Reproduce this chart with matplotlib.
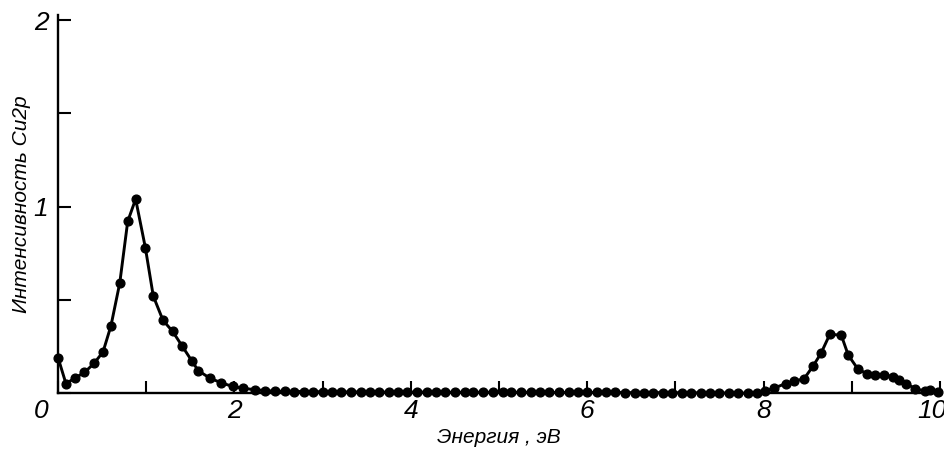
import matplotlib
matplotlib.use("Agg")
import matplotlib.pyplot as plt
from matplotlib.transforms import ScaledTranslation

# энергия (эВ) и интенсивность Cu2p
energy = [0.00, 0.09, 0.19, 0.30, 0.41, 0.51, 0.60, 0.70, 0.79, 0.88,
          0.99, 1.08, 1.19, 1.30, 1.41, 1.52, 1.59, 1.72, 1.85, 1.98,
          2.10, 2.23, 2.35, 2.46, 2.57, 2.68, 2.79, 2.89, 3.00, 3.11,
          3.21, 3.32, 3.43, 3.54, 3.64, 3.75, 3.86, 3.96, 4.07, 4.18,
          4.29, 4.39, 4.50, 4.61, 4.71, 4.82, 4.93, 5.04, 5.14, 5.25,
          5.36, 5.46, 5.57, 5.68, 5.79, 5.89, 6.00, 6.11, 6.21, 6.32,
          6.43, 6.54, 6.64, 6.75, 6.86, 6.96, 7.07, 7.18, 7.29, 7.39,
          7.50, 7.61, 7.71, 7.82, 7.92, 8.02, 8.12, 8.25, 8.35, 8.46,
          8.56, 8.65, 8.75, 8.88, 8.96, 9.07, 9.17, 9.26, 9.36, 9.47,
          9.53, 9.62, 9.72, 9.83, 9.89, 9.98]
intensity = [0.19, 0.05, 0.08, 0.11, 0.16, 0.22, 0.36, 0.59, 0.92, 1.04,
             0.78, 0.52, 0.39, 0.33, 0.25, 0.17, 0.12, 0.08, 0.055, 0.035,
             0.025, 0.018, 0.013, 0.010, 0.009, 0.008, 0.008, 0.007, 0.007, 0.007,
             0.006, 0.006, 0.006, 0.006, 0.005, 0.005, 0.005, 0.005, 0.005, 0.005,
             0.005, 0.004, 0.004, 0.004, 0.004, 0.004, 0.004, 0.004, 0.004, 0.004,
             0.004, 0.003, 0.003, 0.003, 0.003, 0.003, 0.003, 0.003, 0.003, 0.003,
             0.002, 0.002, 0.002, 0.002, 0.002, 0.002, 0.001, 0.001, 0.001, 0.000,
             0.000, 0.000, -0.001, -0.001, 0.000, 0.010, 0.027, 0.050, 0.063, 0.077,
             0.144, 0.212, 0.314, 0.311, 0.203, 0.128, 0.104, 0.099, 0.099, 0.086,
             0.068, 0.050, 0.023, 0.010, 0.015, 0.005]

x_ticks = [0, 1, 2, 3, 4, 5, 6, 7, 8, 9, 10]
x_labels = ["0", "", "2", "", "4", "", "6", "", "8", "", "10"]
y_ticks = [0, 0.5, 1, 1.5, 2]
y_labels = ["", "", "1", "", "2"]

fnt = ["Liberation Sans", "DejaVu Sans"]

fig = plt.figure(figsize=(9.45, 4.51), dpi=100)
ax = fig.add_axes([0.0614, 0.1286, 0.9333, 0.838])

ax.plot(energy, intensity, color="black", lw=2.1, marker="o", ms=6.3,
        clip_on=False, zorder=3)

ax.set_xlim(0, 10)
ax.set_ylim(0, 2.027)
ax.spines["top"].set_visible(False)
ax.spines["right"].set_visible(False)
ax.spines["left"].set_linewidth(1.7)
ax.spines["bottom"].set_linewidth(1.7)

ax.set_xticks(x_ticks)
ax.set_xticklabels(x_labels, family=fnt, style="italic", fontsize=19)
ax.set_yticks(y_ticks)
ax.set_yticklabels(y_labels, family=fnt, style="italic", fontsize=19)
ax.tick_params(axis="both", direction="in", length=9, width=1.5)
ax.tick_params(axis="x", pad=4)
ax.tick_params(axis="y", pad=7)

# "0" в углу сдвинут влево, "10" чуть влево
xl = ax.get_xticklabels()
xl[0].set_transform(xl[0].get_transform() + ScaledTranslation(-0.17, 0, fig.dpi_scale_trans))
xl[-1].set_transform(xl[-1].get_transform() + ScaledTranslation(-0.08, 0, fig.dpi_scale_trans))

ax.set_xlabel("Энергия , эВ", family=fnt, style="italic", fontsize=15, labelpad=4)
ax.set_ylabel("Интенсивность Cu2p", family=fnt, style="italic", fontsize=15, labelpad=2)

fig.savefig("out.png", dpi=100)
